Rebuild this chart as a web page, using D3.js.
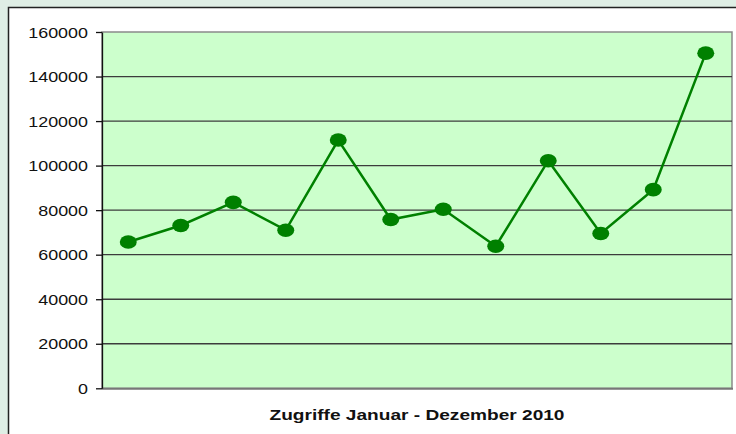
<!DOCTYPE html>
<html>
<head>
<meta charset="utf-8">
<script src="https://cdn.jsdelivr.net/npm/d3@7"></script>
<style>
  body { margin: 0; background: #dfeee5; }
  svg { display: block; }
  text { font-family: "Liberation Sans", Arial, sans-serif; }
</style>
</head>
<body>
<svg id="chart" width="736" height="434"></svg>
<script>
// monthly hits 2010
var months = ["Jan", "Feb", "Mär", "Apr", "Mai", "Jun", "Jul", "Aug", "Sep", "Okt", "Nov", "Dez"];
var hits = [65700, 73100, 83500, 71000, 111500, 75800, 80400, 63800, 102200, 69500, 89200, 150500];
var yTicks = [0, 20000, 40000, 60000, 80000, 100000, 120000, 140000, 160000];
var xTitle = "Zugriffe Januar - Dezember 2010";

var svg = d3.select("svg#chart");

// outer white panel
svg.append("rect")
    .attr("x", 8.5).attr("y", 7.5)
    .attr("width", 740).attr("height", 440)
    .attr("fill", "#fff")
    .attr("stroke", "#222").attr("stroke-width", 1.5);

var plot = {left: 102, top: 32, right: 732, bottom: 388.3};

var x = d3.scaleBand()
    .domain(months)
    .range([plot.left, plot.right]);

var y = d3.scaleLinear()
    .domain([0, 160000])
    .range([plot.bottom, plot.top]);

// plot area
svg.append("rect")
    .attr("x", plot.left).attr("y", plot.top)
    .attr("width", plot.right - plot.left).attr("height", plot.bottom - plot.top)
    .attr("fill", "#ccffcc")
    .attr("stroke", "#8a8a8a").attr("stroke-width", 1.5);

// gridlines
svg.selectAll(".grid")
    .data(yTicks.filter(function(d) { return d > 0 && d < 160000; }))
    .enter().append("line")
    .attr("class", "grid")
    .attr("x1", plot.left).attr("x2", plot.right)
    .attr("y1", function(d) { return y(d); })
    .attr("y2", function(d) { return y(d); })
    .attr("stroke", "#3c3c3c").attr("stroke-width", 1.3);

// bottom axis line
svg.append("line")
    .attr("x1", plot.left).attr("x2", plot.right + 1)
    .attr("y1", plot.bottom + 0.5).attr("y2", plot.bottom + 0.5)
    .attr("stroke", "#777").attr("stroke-width", 2);

// y axis
var yAxis = d3.axisLeft(y)
    .tickValues(yTicks)
    .tickSize(6)
    .tickSizeOuter(0)
    .tickPadding(8)
    .tickFormat(d3.format("d"));

var yg = svg.append("g")
    .attr("transform", "translate(" + plot.left + ",0)")
    .call(yAxis);
yg.select(".domain").attr("stroke", "#111").attr("stroke-width", 1.3);
yg.selectAll(".tick line").attr("stroke", "#111").attr("stroke-width", 1.3);
yg.selectAll(".tick text")
    .attr("fill", "#111")
    .style("font-size", "14px")
    .attr("x", null)
    .attr("dy", "0.36em")
    .attr("transform", "translate(-14,0) scale(1.28,1)");

// line + markers
var line = d3.line()
    .x(function(d, i) { return x(months[i]) + x.bandwidth() / 2; })
    .y(function(d) { return y(d); });

svg.append("path")
    .datum(hits)
    .attr("d", line)
    .attr("fill", "none")
    .attr("stroke", "#008000")
    .attr("stroke-width", 2.5);

svg.selectAll(".dot")
    .data(hits)
    .enter().append("ellipse")
    .attr("class", "dot")
    .attr("cx", function(d, i) { return x(months[i]) + x.bandwidth() / 2; })
    .attr("cy", function(d) { return y(d); })
    .attr("rx", 8.5).attr("ry", 6.8)
    .attr("fill", "#008000");

// x title
svg.append("text")
    .attr("x", (plot.left + plot.right) / 2)
    .attr("y", 419.5)
    .attr("text-anchor", "middle")
    .attr("textLength", 295)
    .attr("lengthAdjust", "spacingAndGlyphs")
    .style("font-size", "14.5px")
    .style("font-weight", "bold")
    .attr("fill", "#111")
    .text(xTitle);
</script>
</body>
</html>
